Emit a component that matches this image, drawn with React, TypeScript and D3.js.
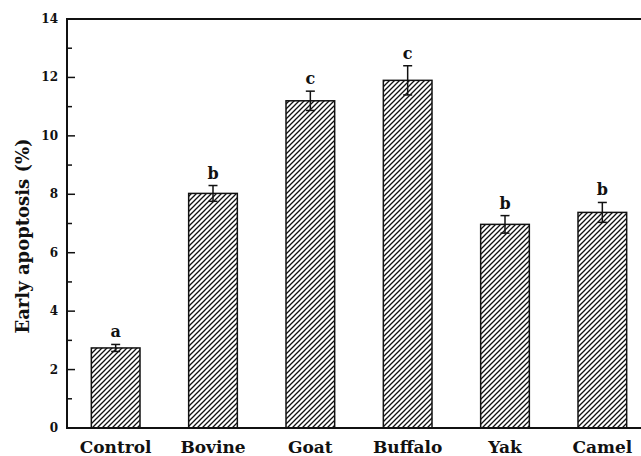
import React from "react";
import * as d3 from "d3";

// Early apoptosis rate per treatment group (mean ± SD) and significance letters
const groups = ["Control", "Bovine", "Goat", "Buffalo", "Yak", "Camel"];
const means = [2.74, 8.03, 11.2, 11.9, 6.97, 7.38];
const errors = [0.12, 0.27, 0.33, 0.5, 0.3, 0.34];
const letters = ["a", "b", "c", "c", "b", "b"];
const majorTicks = [0, 2, 4, 6, 8, 10, 12, 14];
const minorTicks = [1, 3, 5, 7, 9, 11, 13];

const W = 641;
const H = 456;
const left = 67;
const right = 651;
const top = 19;
const bottom = 428;
const font = "'DejaVu Serif', 'Liberation Serif', 'Noto Serif', serif";

export default function App() {
  const x = d3
    .scaleBand<string>()
    .domain(groups)
    .range([left, right])
    .paddingInner(0.5)
    .paddingOuter(0.25);
  const y = d3.scaleLinear().domain([0, 14]).range([bottom, top]);
  const bw = x.bandwidth();

  return (
    <svg
      width={W}
      height={H}
      style={{
        position: "absolute",
        left: 0,
        top: 0,
        background: "#fff",
        fontFamily: font,
        fontWeight: "bold",
      }}
    >
      <defs>
        <pattern id="hatch" patternUnits="userSpaceOnUse" width={5} height={5}>
          <rect width={5} height={5} fill="#fff" />
          <path
            d="M0,5 L5,0 M-1,1 L1,-1 M4,6 L6,4"
            stroke="#111"
            strokeWidth={1.3}
          />
        </pattern>
      </defs>

      {/* bars */}
      {groups.map((g, i) => (
        <rect
          key={g}
          x={x(g)}
          y={y(means[i])}
          width={bw}
          height={bottom - y(means[i])}
          fill="url(#hatch)"
          stroke="#111"
          strokeWidth={1.5}
        />
      ))}

      {/* error bars */}
      {groups.map((g, i) => {
        const cx = (x(g) as number) + bw / 2;
        const yt = y(means[i] + errors[i]);
        const yb = y(means[i] - errors[i]);
        return (
          <g key={g} stroke="#111" strokeWidth={1.5}>
            <line x1={cx} x2={cx} y1={yt} y2={yb} />
            <line x1={cx - 4.5} x2={cx + 4.5} y1={yt} y2={yt} />
            <line x1={cx - 4.5} x2={cx + 4.5} y1={yb} y2={yb} />
          </g>
        );
      })}

      {/* significance letters */}
      {groups.map((g, i) => (
        <text
          key={g}
          x={(x(g) as number) + bw / 2}
          y={y(means[i] + errors[i]) - 7}
          textAnchor="middle"
          fontSize={16}
          fill="#111"
        >
          {letters[i]}
        </text>
      ))}

      {/* frame */}
      <rect
        x={left}
        y={top}
        width={right - left + 2}
        height={bottom - top}
        fill="none"
        stroke="#111"
        strokeWidth={2}
      />

      {/* y ticks */}
      {majorTicks.map((t) => (
        <g key={t}>
          <line x1={left} x2={left + 8} y1={y(t)} y2={y(t)} stroke="#111" strokeWidth={1.5} />
          <text x={58} y={y(t)} dy="0.33em" textAnchor="end" fontSize={12} fill="#111">
            {t}
          </text>
        </g>
      ))}
      {minorTicks.map((t) => (
        <line key={t} x1={left} x2={left + 5} y1={y(t)} y2={y(t)} stroke="#111" strokeWidth={1.5} />
      ))}

      {/* x labels */}
      {groups.map((g) => (
        <text
          key={g}
          x={(x(g) as number) + bw / 2}
          y={453}
          textAnchor="middle"
          fontSize={17}
          fill="#111"
        >
          {g}
        </text>
      ))}

      {/* y axis title */}
      <text
        transform="translate(29,236) rotate(-90)"
        textAnchor="middle"
        fontSize={18}
        fill="#111"
      >
        Early apoptosis (%)
      </text>
    </svg>
  );
}
